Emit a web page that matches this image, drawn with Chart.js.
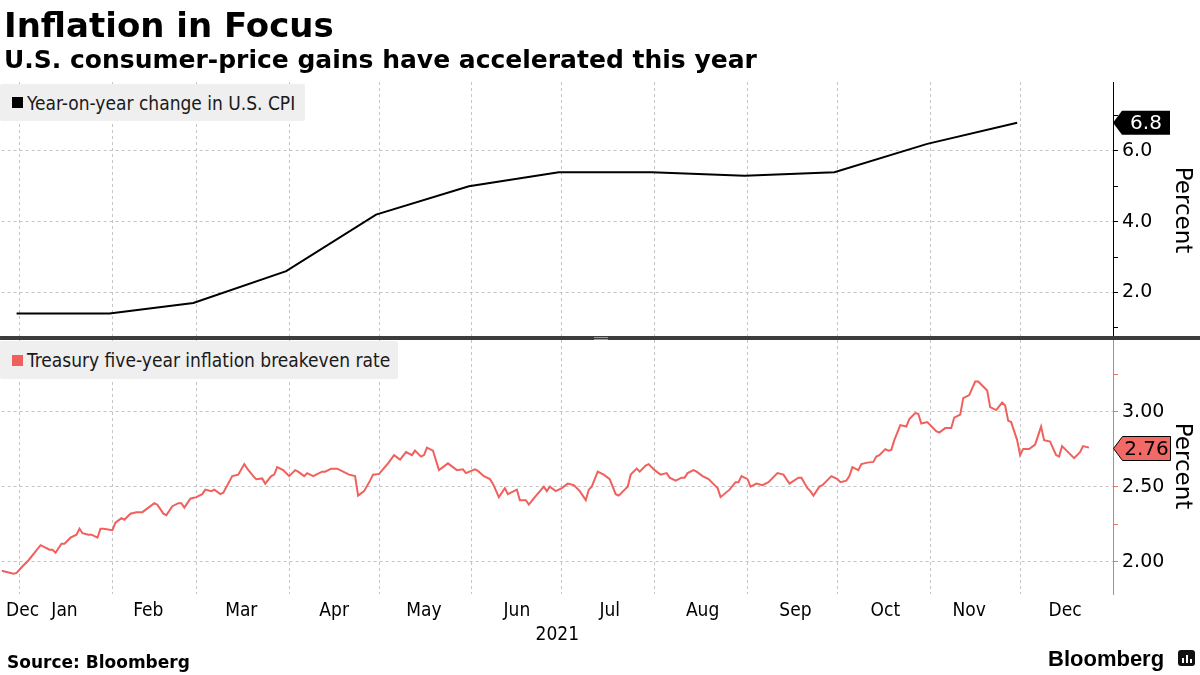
<!DOCTYPE html>
<html>
<head>
<meta charset="utf-8">
<script src="https://cdn.jsdelivr.net/npm/chart.js"></script>
<style>
  body { margin: 0; width: 1200px; height: 675px; background: #fff; position: relative; overflow: hidden; }
  canvas { position: absolute; left: 0; top: 0; }
  .txt { position: absolute; white-space: nowrap; color: #000; }
  #title { left: 4px; top: 8px; font: bold 34px/34px "DejaVu Sans", sans-serif; }
  #subtitle { left: 4px; top: 47px; font: bold 25px/25px "DejaVu Sans", sans-serif; }
  #source { left: 7px; top: 654px; font: bold 17px/17px "DejaVu Sans", sans-serif; }
  #brand { left: 1048px; top: 648px; font: bold 22px/22px "Liberation Sans", Arial, sans-serif; }
  #brandIcon { position: absolute; left: 1178px; top: 650px; width: 17px; height: 16px; background: #111; border-radius: 3px; }
  #brandIcon b { position: absolute; bottom: 3px; width: 2px; background: #fff; }
  .legend { position: absolute; left: 0; background: #efefef; display: flex; align-items: center; z-index: 2;
            font: 19px "DejaVu Sans Condensed", "DejaVu Sans", sans-serif; color: #1a1a1a; border-radius: 2px; }
  .legend i { display: inline-block; width: 11px; height: 11px; margin: 0 4px 0 12px; }
</style>
</head>
<body>
<canvas id="chart" width="1200" height="675"></canvas>
<div class="txt" id="title">Inflation in Focus</div>
<div class="txt" id="subtitle">U.S. consumer-price gains have accelerated this year</div>
<div class="legend" style="top:84px;height:37px;width:305px"><i style="background:#000"></i>Year-on-year change in U.S. CPI</div>
<div class="legend" style="top:341px;height:38px;width:398px"><i style="background:#f0605d"></i>Treasury five-year inflation breakeven rate</div>
<div class="txt" id="source">Source: Bloomberg</div>
<div class="txt" id="brand">Bloomberg</div>
<div id="brandIcon"><b style="left:4px;height:5px"></b><b style="left:8px;height:8px"></b><b style="left:12px;height:4px"></b></div>
<script>
// x values are calendar days counted from 1 Jan 2021 (day 0)
const monthStartDays = [0, 31, 59, 90, 120, 151, 181, 212, 243, 273, 304, 334];
const monthLabelDays = [1, 15, 43, 74, 105, 135, 166, 197, 228, 259, 289, 317, 349];
const monthNames = ['Dec', 'Jan', 'Feb', 'Mar', 'Apr', 'May', 'Jun', 'Jul', 'Aug', 'Sep', 'Oct', 'Nov', 'Dec'];

// monthly CPI, year-on-year %, plotted at month end
const cpiDays = [-1, 30, 58, 89, 119, 150, 180, 211, 242, 272, 303, 333];
const cpiValues = [1.4, 1.4, 1.7, 2.6, 4.2, 5.0, 5.4, 5.4, 5.3, 5.4, 6.2, 6.8];

// 5-year breakeven rate, %
const beDays = [
  -6, -2, -1, 1, 3, 7, 8, 10, 11, 12, 14, 15, 17, 19, 20, 21, 23, 24, 26, 27, 28,
  31, 32, 34, 35, 37, 39, 41, 43, 45, 46, 48, 49, 51, 53, 54, 55, 57, 59, 61, 62,
  64, 65, 67, 68, 71, 73, 75, 76, 78, 79, 81, 82, 84, 85, 86, 88, 90, 92, 93, 95,
  96, 98, 99, 101, 102, 104, 105, 106, 108, 110, 112, 113, 115, 117, 118, 120, 123, 125, 127, 129,
  131, 132, 134, 135, 136, 138, 140, 143, 146, 148, 149, 152, 153, 155, 157, 158, 160, 162, 163, 166,
  167, 169, 170, 172, 175, 176, 177, 179, 181, 183, 185, 187, 189, 190, 191, 193, 195, 197, 199, 200,
  202, 203, 204, 206, 207, 209, 210, 212, 214, 216, 217, 219, 221, 222, 223, 225, 226, 228, 230, 232,
  233, 234, 237, 239, 240, 241, 243, 244, 246, 248, 250, 253, 255, 257, 260, 261, 263, 264, 265, 267,
  268, 271, 273, 274, 276, 277, 278, 280, 281, 283, 285, 286, 287, 289, 290, 291, 292, 294, 296, 297,
  299, 300, 301, 303, 306, 307, 309, 311, 312, 314, 315, 317, 319, 320, 323, 324, 326, 328, 329, 330,
  331, 333, 334, 335, 337, 339, 341, 342, 344, 346, 347, 348, 350, 352, 354, 355, 357
];
const beValues = [
  1.94, 1.92, 1.925, 1.97, 2.01, 2.11, 2.10, 2.08, 2.08, 2.06, 2.12, 2.12, 2.16, 2.18, 2.22, 2.19, 2.18, 2.18, 2.16, 2.22, 2.22,
  2.21, 2.26, 2.29, 2.28, 2.32, 2.33, 2.33, 2.36, 2.39, 2.38, 2.32, 2.31, 2.37, 2.39, 2.39, 2.36, 2.42, 2.43, 2.45, 2.48,
  2.47, 2.48, 2.45, 2.46, 2.57, 2.58, 2.65, 2.62, 2.57, 2.55, 2.555, 2.52, 2.57, 2.58, 2.63, 2.61, 2.57, 2.61, 2.60, 2.57,
  2.59, 2.57, 2.58, 2.60, 2.60, 2.62, 2.62, 2.62, 2.60, 2.58, 2.57, 2.44, 2.47, 2.54, 2.58, 2.585, 2.655, 2.71, 2.68, 2.73,
  2.71, 2.74, 2.70, 2.71, 2.76, 2.74, 2.61, 2.655, 2.61, 2.615, 2.59, 2.615, 2.605, 2.57, 2.55, 2.52, 2.43, 2.49, 2.45, 2.48,
  2.41, 2.41, 2.38, 2.43, 2.50, 2.47, 2.50, 2.47, 2.49, 2.52, 2.51, 2.47, 2.41, 2.48, 2.50, 2.60, 2.58, 2.55, 2.45, 2.44,
  2.48, 2.50, 2.58, 2.62, 2.60, 2.64, 2.65, 2.61, 2.58, 2.59, 2.56, 2.54, 2.56, 2.56, 2.59, 2.61, 2.60, 2.57, 2.55, 2.51,
  2.49, 2.43, 2.48, 2.53, 2.53, 2.57, 2.55, 2.50, 2.52, 2.51, 2.53, 2.59, 2.58, 2.52, 2.56, 2.56, 2.49, 2.47, 2.44, 2.50,
  2.51, 2.57, 2.55, 2.53, 2.54, 2.57, 2.63, 2.61, 2.65, 2.66, 2.665, 2.70, 2.71, 2.75, 2.74, 2.745, 2.81, 2.91, 2.90, 2.95,
  2.99, 2.985, 2.92, 2.93, 2.87, 2.86, 2.89, 2.89, 2.96, 2.98, 3.09, 3.11, 3.20, 3.20, 3.14, 3.03, 3.01, 3.06, 3.04, 2.94,
  2.93, 2.81, 2.71, 2.75, 2.75, 2.78, 2.90, 2.81, 2.80, 2.71, 2.70, 2.77, 2.73, 2.69, 2.73, 2.77, 2.76
];

const cpiTicks = [1, 2, 3, 4, 5, 6, 7];
const cpiLabelled = [2, 4, 6];
const beTicks = [2.0, 2.25, 2.5, 2.75, 3.0, 3.25];
const beLabelled = [2.0, 2.5, 3.0];

const RED = '#f0605d';
const GRID = '#c4c4c4';

const tickFont = { family: '"DejaVu Sans", sans-serif', size: 19 };
const monthFont = { family: '"DejaVu Sans Condensed", "DejaVu Sans", sans-serif', size: 19 };
const titleFont = { family: '"DejaVu Sans", sans-serif', size: 23 };

function yAxis(ticks, labelled, color, min, max, digits, weight) {
  return {
    type: 'linear',
    position: 'right',
    stack: 'panels',
    stackWeight: 1,
    weight: weight,
    min: min,
    max: max,
    afterFit: s => { s.width = 87; },
    afterBuildTicks: s => { s.ticks = ticks.map(v => ({ value: v })); },
    border: { display: true, color: color, width: 1, dash: [3, 3] },
    grid: {
      color: c => labelled.includes(c.tick && c.tick.value) ? GRID : 'rgba(0,0,0,0)',
      tickColor: color,
      tickLength: 5,
      lineWidth: 1
    },
    ticks: {
      autoSkip: false,
      color: '#000',
      font: tickFont,
      padding: 4,
      callback: v => labelled.includes(v) ? v.toFixed(digits) : ''
    },
    title: { display: true, text: 'Percent', color: '#000', font: titleFont, padding: { top: 4, bottom: 0 } }
  };
}

function drawTag(ctx, x, y, text, fill, textColor, stroke) {
  const h = 24, tip = 9, w = 57;
  ctx.beginPath();
  ctx.moveTo(x, y);
  ctx.lineTo(x + tip, y - h / 2);
  ctx.lineTo(x + w, y - h / 2);
  ctx.lineTo(x + w, y + h / 2);
  ctx.lineTo(x + tip, y + h / 2);
  ctx.closePath();
  ctx.fillStyle = fill;
  ctx.fill();
  if (stroke) { ctx.strokeStyle = stroke; ctx.lineWidth = 1; ctx.stroke(); }
  ctx.fillStyle = textColor;
  ctx.font = '20px "DejaVu Sans", sans-serif';
  ctx.textAlign = 'center';
  ctx.textBaseline = 'middle';
  ctx.fillText(text, x + tip + (w - tip) / 2, y + 1);
}

const overlay = {
  id: 'overlay',
  afterDraw(chart) {
    const ctx = chart.ctx;
    const yc = chart.scales.yCpi, yb = chart.scales.yBe;
    const sep = yc.bottom;
    ctx.save();
    ctx.fillStyle = '#3c3c3c';
    ctx.fillRect(0, sep - 2, chart.width, 4);
    ctx.fillStyle = '#9a9a9a';
    ctx.fillRect(594, sep - 1, 14, 1);
    ctx.fillRect(594, sep + 1, 14, 1);
    const ax = chart.chartArea.right;
    drawTag(ctx, ax, yc.getPixelForValue(cpiValues[cpiValues.length - 1]),
      cpiValues[cpiValues.length - 1].toFixed(1), '#000', '#fff', null);
    drawTag(ctx, ax + 0.5, Math.round(yb.getPixelForValue(beValues[beValues.length - 1])) + 0.5,
      beValues[beValues.length - 1].toFixed(2), '#f26a66', '#000', '#000');
    ctx.restore();
  }
};

new Chart(document.getElementById('chart'), {
  type: 'line',
  data: {
    datasets: [
      {
        label: 'Year-on-year change in U.S. CPI',
        data: cpiDays.map((d, i) => ({ x: d, y: cpiValues[i] })),
        yAxisID: 'yCpi',
        xAxisID: 'x',
        borderColor: '#000',
        borderWidth: 2,
        pointRadius: 0,
        tension: 0
      },
      {
        label: 'Treasury five-year inflation breakeven rate',
        data: beDays.map((d, i) => ({ x: d, y: beValues[i] })),
        yAxisID: 'yBe',
        xAxisID: 'x',
        borderColor: RED,
        borderWidth: 2,
        pointRadius: 0,
        tension: 0
      }
    ]
  },
  options: {
    responsive: false,
    animation: false,
    devicePixelRatio: 1,
    layout: { padding: { top: 82, bottom: 25, left: 0, right: 0 } },
    plugins: { legend: { display: false }, tooltip: { enabled: false } },
    scales: {
      x: {
        type: 'linear',
        position: 'bottom',
        min: -6,
        max: 365,
        afterBuildTicks: s => { s.ticks = monthStartDays.map(v => ({ value: v })); },
        afterFit: s => { s.height = 0; },
        border: { display: false, dash: [3, 3] },
        grid: { color: GRID, drawTicks: false, lineWidth: 1 },
        ticks: { display: false }
      },
      xLabels: {
        type: 'linear',
        position: 'bottom',
        min: -6,
        max: 365,
        afterBuildTicks: s => { s.ticks = monthLabelDays.map(v => ({ value: v })); },
        afterFit: s => { s.height = 56; },
        border: { display: false },
        grid: { display: false, drawTicks: false },
        ticks: {
          autoSkip: false,
          maxRotation: 0,
          padding: 6,
          color: '#000',
          font: monthFont,
          callback: (v, i) => monthNames[i]
        },
        title: { display: true, text: '2021', color: '#000', font: monthFont, padding: { top: 0, bottom: 4 } }
      },
      yCpi: yAxis(cpiTicks, cpiLabelled, '#000', 0.71, 7.95, 1, 0),
      yBe: yAxis(beTicks, beLabelled, '#f07070', 1.785, 3.49, 2, 1)
    }
  },
  plugins: [overlay]
});
</script>
</body>
</html>
